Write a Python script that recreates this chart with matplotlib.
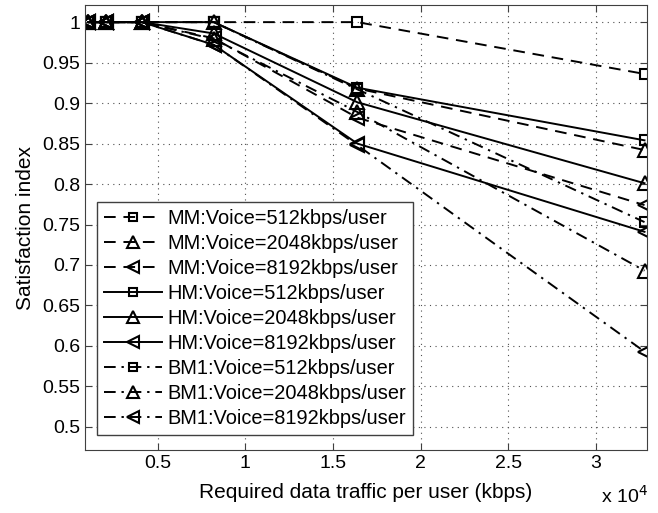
import matplotlib
matplotlib.use("Agg")
import matplotlib.pyplot as plt
from matplotlib.ticker import FuncFormatter

plt.rcParams["font.family"] = ["Liberation Sans", "DejaVu Sans"]

# required data traffic per user (kbps)
traffic = [1024, 2048, 4096, 8192, 16384, 32768]

# satisfaction index per scheme / voice rate
mm_512 = [1.0, 1.0, 1.0, 1.0, 1.0, 0.936]
mm_2048 = [1.0, 1.0, 1.0, 1.0, 0.918, 0.842]
mm_8192 = [1.0, 1.0, 1.0, 0.98, 0.882, 0.774]
hm_512 = [1.0, 1.0, 1.0, 1.0, 0.919, 0.854]
hm_2048 = [1.0, 1.0, 1.0, 0.986, 0.901, 0.801]
hm_8192 = [1.0, 1.0, 1.0, 0.972, 0.850, 0.741]
bm1_512 = [1.0, 1.0, 1.0, 1.0, 0.917, 0.753]
bm1_2048 = [1.0, 1.0, 1.0, 0.979, 0.889, 0.693]
bm1_8192 = [1.0, 1.0, 1.0, 0.972, 0.848, 0.593]

DASH = (0, (6, 4))
DASHDOT = (0, (6, 3, 1.2, 3))

series = [
    ("MM:Voice=512kbps/user", mm_512, DASH, "s"),
    ("MM:Voice=2048kbps/user", mm_2048, DASH, "^"),
    ("MM:Voice=8192kbps/user", mm_8192, DASH, "<"),
    ("HM:Voice=512kbps/user", hm_512, "-", "s"),
    ("HM:Voice=2048kbps/user", hm_2048, "-", "^"),
    ("HM:Voice=8192kbps/user", hm_8192, "-", "<"),
    ("BM1:Voice=512kbps/user", bm1_512, DASHDOT, "s"),
    ("BM1:Voice=2048kbps/user", bm1_2048, DASHDOT, "^"),
    ("BM1:Voice=8192kbps/user", bm1_8192, DASHDOT, "<"),
]

fig = plt.figure(figsize=(6.58, 5.13), dpi=100)
ax = fig.add_axes([0.129, 0.123, 0.854, 0.867])

for label, values, ls, mk in series:
    ms = 7.5 if mk == "s" else 10.5
    ax.plot(traffic, values, color="black", linestyle=ls, linewidth=1.4,
            marker=mk, markersize=ms, markerfacecolor="none",
            markeredgewidth=1.5, label=label)

ax.set_xlim(840, 32900)
ax.set_ylim(0.4716, 1.021)
ax.set_xticks([5000, 10000, 15000, 20000, 25000, 30000])
ax.set_yticks([0.5, 0.55, 0.6, 0.65, 0.7, 0.75, 0.8, 0.85, 0.9, 0.95, 1.0])
ax.xaxis.set_major_formatter(FuncFormatter(lambda v, p: f"{v / 1e4:g}"))
ax.yaxis.set_major_formatter(FuncFormatter(lambda v, p: f"{v:g}"))
ax.tick_params(direction="in", top=True, right=True, labelsize=14,
               length=5, color="#404040")
for s in ax.spines.values():
    s.set_color("#404040")
ax.grid(True, linestyle=(0, (1, 4)), color="#505050", linewidth=0.8)

ax.set_xlabel("Required data traffic per user (kbps)", fontsize=15, labelpad=8)
ax.set_ylabel("Satisfaction index", fontsize=15, labelpad=5)
fig.text(0.913, 0.012, r"x 10$^4$", fontsize=14, ha="left", va="bottom")

leg = ax.legend(loc="lower left", bbox_to_anchor=(0.021, 0.034), fontsize=14.4,
                handlelength=2.9, handletextpad=0.3, labelspacing=0.3,
                borderpad=0.35, borderaxespad=0, fancybox=False,
                edgecolor="#404040", framealpha=1, markerscale=0.8)
leg.get_frame().set_linewidth(1.0)

fig.savefig("out.png", dpi=100)
